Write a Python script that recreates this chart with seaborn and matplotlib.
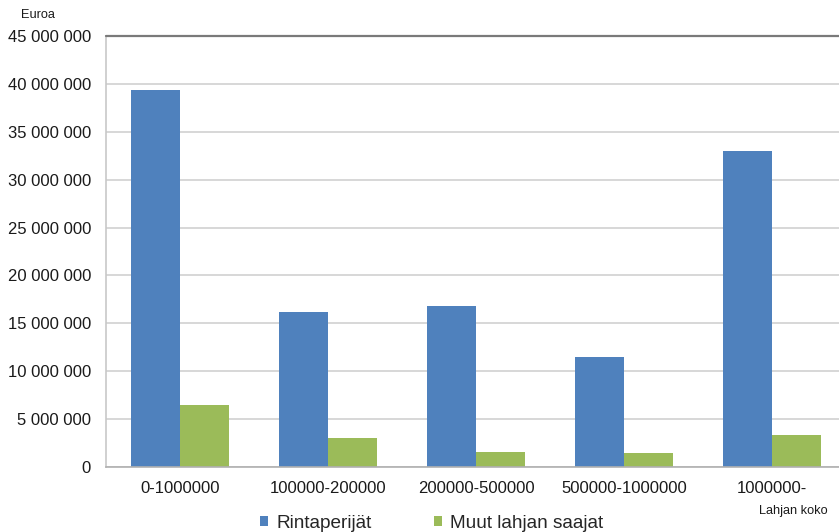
import matplotlib
matplotlib.use("Agg")
import matplotlib.pyplot as plt
import seaborn as sns
import pandas as pd
from matplotlib.ticker import FuncFormatter, MultipleLocator

categories = ["0-1000000", "100000-200000", "200000-500000", "500000-1000000", "1000000-"]
series_names = ["Rintaperijät", "Muut lahjan saajat"]
rintaperijat = [39_400_000, 16_150_000, 16_800_000, 11_450_000, 32_950_000]
muut = [6_430_000, 2_990_000, 1_560_000, 1_430_000, 3_330_000]
colors = ["#4F81BD", "#9BBB59"]

rows = []
for c, v in zip(categories, rintaperijat):
    rows.append({"cat": c, "series": series_names[0], "value": v})
for c, v in zip(categories, muut):
    rows.append({"cat": c, "series": series_names[1], "value": v})
df = pd.DataFrame(rows)

sns.set_style("white")
plt.rcParams["font.family"] = ["Liberation Sans", "DejaVu Sans"]

W, H = 839, 532
fig = plt.figure(figsize=(W / 100, H / 100), dpi=100)
left, right, top, bottom = 106, 846, 36, 467
ax = fig.add_axes([left / W, 1 - bottom / H, (right - left) / W, (bottom - top) / H])

sns.barplot(data=df, x="cat", y="value", hue="series", palette=colors,
            width=0.662, ax=ax, saturation=1, legend=True, edgecolor="none")

ax.set_ylim(0, 45_000_000)
ax.set_xlim(-0.5, 4.5)
ax.yaxis.set_major_locator(MultipleLocator(5_000_000))
ax.yaxis.set_major_formatter(FuncFormatter(lambda v, p: f"{int(v):,}".replace(",", " ")))
ax.grid(axis="y", color="#D4D4D4", linewidth=1.3)
ax.set_axisbelow(True)
for s in ["top", "right"]:
    ax.spines[s].set_visible(False)
ax.spines["left"].set_color("#C8C8C8")
ax.spines["bottom"].set_color("#B0B0B0")
ax.spines["left"].set_linewidth(1.2)
ax.spines["bottom"].set_linewidth(1.2)
ax.axhline(45_000_000, color="#7A7A7A", linewidth=1.6, clip_on=False, zorder=3)

ax.tick_params(axis="y", length=0, labelsize=12, pad=10.8, colors="#1A1A1A")
ax.tick_params(axis="x", length=0, labelsize=12, pad=10, colors="#1A1A1A")
ax.set_xlabel("")
ax.set_ylabel("")

fig.text(21 / W, 1 - 15 / H, "Euroa", fontsize=9.2, va="center", ha="left", color="#1A1A1A")
fig.text(793.5 / W, 1 - 511 / H, "Lahjan koko", fontsize=9.2, va="center", ha="center", color="#1A1A1A")

handles, labels = ax.get_legend_handles_labels()
ax.legend_.remove()
fig.legend(handles, labels, loc="center", bbox_to_anchor=(432 / W, 1 - 523 / H), ncol=2,
           frameon=False, fontsize=13.7, handlelength=0.42, handleheight=0.42,
           handletextpad=0.42, columnspacing=3.3, borderpad=0)

fig.savefig("out.png", dpi=100)
